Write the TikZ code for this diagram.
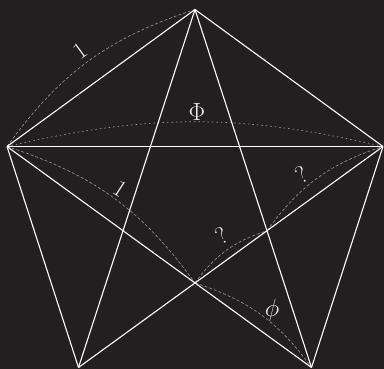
\documentclass[tikz,border=0pt]{standalone}
\definecolor{bg}{RGB}{35,31,32}
\begin{document}
\begin{tikzpicture}[x=1pt,y=-1pt,
  edge/.style={white, line width=1.1pt},
  arcline/.style={gray!80, line width=0.6pt, dash pattern=on 3pt off 2pt},
  dotarc/.style={gray!80, line width=0.7pt, dash pattern=on 1.5pt off 3pt},
  lab/.style={text=white!92!black, font=\fontsize{24}{24}\selectfont, inner sep=0pt}]
\fill[bg] (0,0) rectangle (384,369);
\useasboundingbox (0,0) rectangle (384,369);
\coordinate (T) at (195,9.5);
\coordinate (L) at (7,146.5);
\coordinate (R) at (383,146.5);
\coordinate (BL) at (78.5,367.5);
\coordinate (BR) at (311.5,367.5);
\coordinate (P) at (intersection of L--BR and R--BL);
\coordinate (Q) at (intersection of T--BR and R--BL);
% arcs
\draw[arcline] (L) to[bend left=18] (T);
\draw[dotarc] (L) to[bend left=13] (R);
\draw[arcline] (L) to[bend left=18] (P);
\draw[arcline] (P) to[bend left=18] (Q);
\draw[arcline] (Q) to[bend left=18] (R);
\draw[arcline] (P) to[bend left=18] (BR);
% pentagon edges
\draw[edge] (L) -- (T) -- (R);
\draw[edge] (L) -- (BL);
\draw[edge] (R) -- (BR);
% diagonals
\draw[edge, line width=1.7pt] (L) -- (R);
\draw[edge] (T) -- (BL);
\draw[edge] (T) -- (BR);
\draw[edge] (L) -- (BR);
\draw[edge] (R) -- (BL);
% labels
\node[lab, rotate=36] (l1) at (80,51) {1};
\node[lab] (lphi) at (197,112) {$\Phi$};
\node[lab, rotate=-33] (l2) at (120,189) {1};
\node[lab, rotate=30] (q1) at (222,236) {?};
\node[lab, rotate=30] (q2) at (302,175) {?};
\node[lab] (lsphi) at (272,310) {$\phi$};
\end{tikzpicture}
\end{document}
